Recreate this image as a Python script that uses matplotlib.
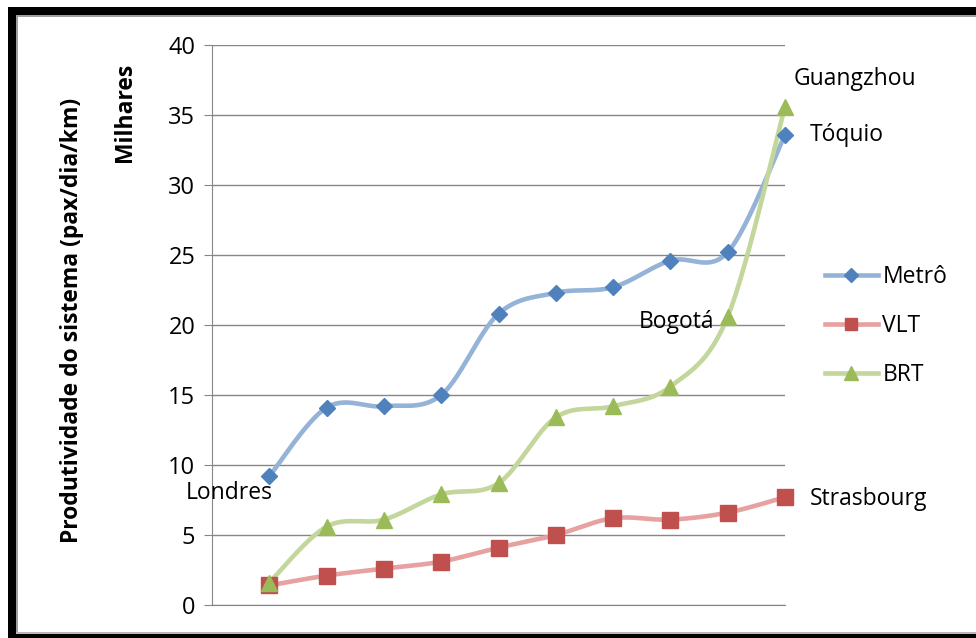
import numpy as np
import matplotlib
matplotlib.use("Agg")
import matplotlib.pyplot as plt
from matplotlib.patches import Rectangle

plt.rcParams["font.family"] = ["Open Sans", "DejaVu Sans"]

# produtividade por sistema, milhares de pax/dia/km
pos = [1, 2, 3, 4, 5, 6, 7, 8, 9, 10]
metro = [9.2, 14.1, 14.2, 15.0, 20.8, 22.3, 22.7, 24.6, 25.2, 33.6]
vlt = [1.4, 2.1, 2.6, 3.1, 4.1, 5.0, 6.2, 6.1, 6.6, 7.7]
brt = [1.6, 5.6, 6.1, 7.9, 8.7, 13.4, 14.2, 15.6, 20.6, 35.6]
yticks = [0, 5, 10, 15, 20, 25, 30, 35, 40]


def suave(x, y, n=30):
    # curva bezier pelos pontos, como a linha suavizada do Excel
    x = np.asarray(x, float)
    y = np.asarray(y, float)
    p = np.column_stack([x, y])
    out = []
    t = np.linspace(0, 1, n)[:, None]
    for i in range(len(p) - 1):
        p0 = p[i - 1] if i > 0 else p[i]
        p3 = p[i + 2] if i + 2 < len(p) else p[i + 1]
        c1 = p[i] + (p[i + 1] - p0) / 6
        c2 = p[i + 1] - (p3 - p[i]) / 6
        seg = ((1 - t) ** 3 * p[i] + 3 * (1 - t) ** 2 * t * c1
               + 3 * (1 - t) * t ** 2 * c2 + t ** 3 * p[i + 1])
        out.append(seg if i == 0 else seg[1:])
    out = np.vstack(out)
    return out[:, 0], out[:, 1]


fig = plt.figure(figsize=(9.76, 6.38), dpi=100)
W, H = 976, 638

# moldura preta da imagem
fig.add_artist(Rectangle((8 / W, 0), 8 / W, 1 - 7 / H, transform=fig.transFigure, color="black", lw=0))
fig.add_artist(Rectangle((8 / W, 1 - 15 / H), 1, 8 / H, transform=fig.transFigure, color="black", lw=0))
fig.add_artist(Rectangle((8 / W, 0), 1, 4 / H, transform=fig.transFigure, color="black", lw=0))
fig.add_artist(Rectangle((16 / W, 4 / H), 2 / W, 1 - 19 / H, transform=fig.transFigure, color="#a0a0a0", lw=0))
fig.add_artist(Rectangle((16 / W, 1 - 17 / H), 1, 2 / H, transform=fig.transFigure, color="#a0a0a0", lw=0))
fig.add_artist(Rectangle((16 / W, 4 / H), 1, 2 / H, transform=fig.transFigure, color="#b8b8b8", lw=0))

ax = fig.add_axes([212 / W, 33 / H, 573 / W, 560 / H])
ax.set_xlim(0, 10)
ax.set_ylim(0, 40)
ax.set_yticks(yticks)
ax.set_xticks([])
ax.grid(axis="y", color="#868686", lw=1)
ax.set_axisbelow(True)
for s in ["top", "right"]:
    ax.spines[s].set_visible(False)
ax.spines["left"].set_color("#868686")
ax.spines["bottom"].set_color("#868686")
ax.tick_params(axis="y", length=6, color="#868686", labelsize=17, pad=6)

series = [
    ("Metrô", metro, "#95b3d7", "#4f81bd", "D", 8),
    ("VLT", vlt, "#e6a1a0", "#c0504d", "s", 11),
    ("BRT", brt, "#c3d69b", "#9bbb59", "^", 12),
]
handles = []
for nome, vals, cl, cm, mk, ms in series:
    xs, ys = suave(pos, vals)
    ax.plot(xs, ys, color=cl, lw=3.3, solid_capstyle="round", clip_on=False, zorder=3)
    ax.plot(pos, vals, ls="none", marker=mk, ms=ms, color=cm, mec=cm, clip_on=False, zorder=4)
    h, = ax.plot([], [], color=cl, lw=3.3, marker=mk, ms=ms * 0.85, mfc=cm, mec=cm)
    handles.append(h)

# nomes das cidades
kw = dict(textcoords="offset points", fontsize=16.5, color="black", va="center")
ax.annotate("Londres", (pos[0], metro[0]), xytext=(-29, -12), ha="center", **kw)
ax.annotate("Tóquio", (pos[-1], metro[-1]), xytext=(18, 0), ha="left", **kw)
ax.annotate("Guangzhou", (pos[-1], brt[-1]), xytext=(50, 20), ha="center", **kw)
ax.annotate("Bogotá", (pos[-2], brt[-2]), xytext=(-10, -4), ha="right", **kw)
ax.annotate("Strasbourg", (pos[-1], vlt[-1]), xytext=(18, -1), ha="left", **kw)

fig.legend(handles, [s[0] for s in series], loc="center left",
           bbox_to_anchor=(825 / W, (H - 326) / H), frameon=False, fontsize=16.5,
           handlelength=2.3, handletextpad=0.2, labelspacing=1.1,
           borderpad=0, borderaxespad=0)

fig.text(72 / W, (H - 320) / H, "Produtividade do sistema (pax/dia/km)", rotation=90,
         ha="center", va="center", fontsize=16.5, fontweight="bold")
fig.text(125 / W, (H - 112) / H, "Milhares", rotation=90,
         ha="center", va="center", fontsize=16.5, fontweight="bold")

fig.savefig("out.png", dpi=100)
